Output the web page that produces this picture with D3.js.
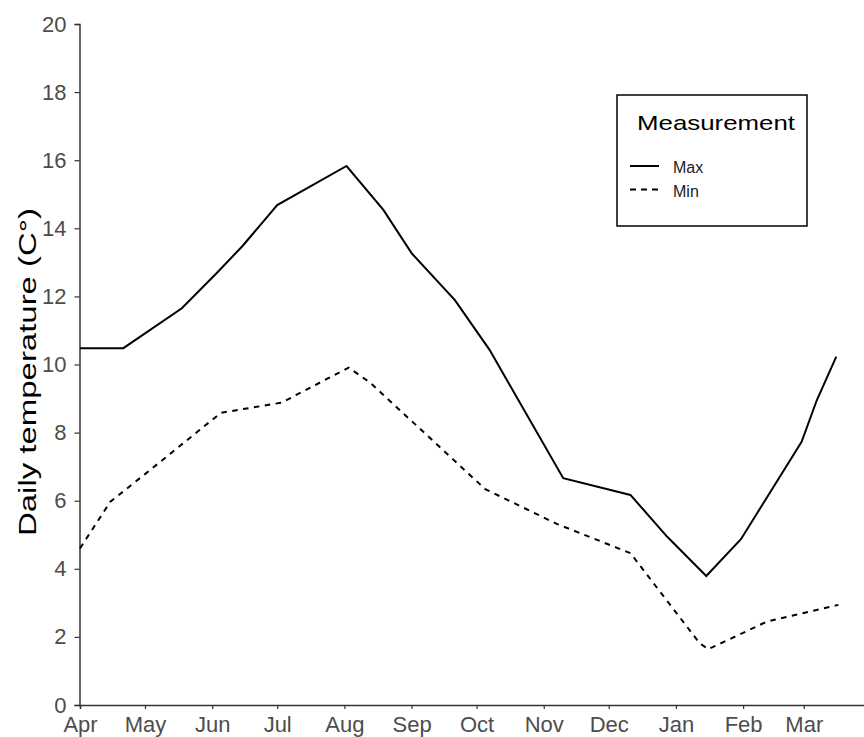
<!DOCTYPE html>
<html>
<head>
<meta charset="utf-8">
<script src="https://cdn.jsdelivr.net/npm/d3@7"></script>
<style>
  body { margin: 0; background: #fff; }
  text { font-family: "Liberation Sans", Arial, sans-serif; }
</style>
</head>
<body>
<svg id="chart" width="864" height="737"></svg>
<script>
// daily temperature
var maxDates = ["2018-04-01", "2018-04-21", "2018-05-18", "2018-06-03", "2018-06-15",
  "2018-07-01", "2018-08-02", "2018-08-19", "2018-09-01", "2018-09-21",
  "2018-10-07", "2018-11-10", "2018-12-11", "2018-12-28", "2019-01-15", "2019-01-31",
  "2019-02-28", "2019-03-07", "2019-03-16"];
var maxValues = [10.48, 10.48, 11.65, 12.68, 13.48, 14.68, 15.83, 14.54, 13.27,
  11.89, 10.43, 6.66, 6.17, 4.94, 3.79, 4.87, 7.73, 8.95, 10.23];

var minDates = ["2018-04-01", "2018-04-15", "2018-05-01", "2018-06-05", "2018-07-03",
  "2018-08-03", "2018-08-13", "2018-10-05", "2018-11-07", "2018-12-11", "2019-01-12",
  "2019-01-16", "2019-02-12", "2019-03-17"];
var minValues = [4.60, 5.97, 6.78, 8.58, 8.88, 9.91, 9.46, 6.34, 5.32, 4.46, 1.81,
  1.64, 2.45, 2.94];

var monthTicks = ["2018-04-01", "2018-05-01", "2018-06-01", "2018-07-01", "2018-08-01",
  "2018-09-01", "2018-10-01", "2018-11-01", "2018-12-01", "2019-01-01", "2019-02-01",
  "2019-03-01"];
var yTicks = [0, 2, 4, 6, 8, 10, 12, 14, 16, 18, 20];
var seriesNames = ["Max", "Min"];
var dashes = [null, "5.5,5.5"];

var parse = d3.timeParse("%Y-%m-%d");

function toPoints(dates, values) {
  return dates.map(function (d, i) { return { date: parse(d), value: values[i] }; });
}
var series = [toPoints(maxDates, maxValues), toPoints(minDates, minValues)];

var svg = d3.select("#chart");
svg.append("rect").attr("width", 864).attr("height", 737).attr("fill", "#fff");

var x = d3.scaleTime()
  .domain([parse("2018-04-01"), parse("2019-04-01")])
  .range([80, 80 + 365 * 2.167]);
var y = d3.scaleLinear().domain([0, 20]).range([705, 24]);

var axisColor = "#333";
var labelFont = "'Liberation Sans', Arial, sans-serif";

// x axis
var xAxisG = svg.append("g")
  .attr("transform", "translate(0,705)")
  .call(d3.axisBottom(x)
    .tickValues(monthTicks.map(parse))
    .tickFormat(d3.timeFormat("%b"))
    .tickSizeOuter(0)
    .tickSize(4)
    .tickPadding(7));
xAxisG.select(".domain").attr("stroke", axisColor).attr("stroke-width", 1.5);
xAxisG.selectAll(".tick line").attr("stroke", axisColor).attr("stroke-width", 1.2);
xAxisG.selectAll(".tick text")
  .attr("fill", "#4d4d4d")
  .style("font-size", "22px")
  .style("font-family", labelFont);

// y axis
var yAxisG = svg.append("g")
  .attr("transform", "translate(79.5,0)")
  .call(d3.axisLeft(y)
    .tickValues(yTicks)
    .tickSizeOuter(0)
    .tickSize(5)
    .tickPadding(8));
yAxisG.select(".domain").attr("stroke", axisColor).attr("stroke-width", 1.5);
yAxisG.selectAll(".tick line").attr("stroke", axisColor).attr("stroke-width", 1.2);
yAxisG.selectAll(".tick text")
  .attr("fill", "#4d4d4d")
  .style("font-size", "22px")
  .style("font-family", labelFont);

svg.append("text")
  .attr("transform", "translate(36,372) rotate(-90)")
  .attr("text-anchor", "middle")
  .attr("textLength", 328)
  .attr("lengthAdjust", "spacingAndGlyphs")
  .style("font-size", "23px")
  .attr("fill", "#000")
  .text("Daily temperature (C°)");

// lines
var line = d3.line()
  .x(function (d) { return x(d.date); })
  .y(function (d) { return y(d.value); });

svg.selectAll("path.series")
  .data(series)
  .enter().append("path")
  .attr("class", "series")
  .attr("d", line)
  .attr("fill", "none")
  .attr("stroke", "#000")
  .attr("stroke-width", 2)
  .attr("stroke-dasharray", function (d, i) { return dashes[i]; });

// legend
var legend = svg.append("g");
legend.append("rect")
  .attr("x", 617).attr("y", 95)
  .attr("width", 190).attr("height", 131)
  .attr("fill", "#fff")
  .attr("stroke", "#000")
  .attr("stroke-width", 1.5);
legend.append("text")
  .attr("x", 637).attr("y", 130)
  .attr("textLength", 158)
  .attr("lengthAdjust", "spacingAndGlyphs")
  .style("font-size", "21px")
  .attr("fill", "#000")
  .text("Measurement");

var items = legend.selectAll("g.item")
  .data(seriesNames)
  .enter().append("g")
  .attr("class", "item")
  .attr("transform", function (d, i) { return "translate(0," + (166 + i * 23.5) + ")"; });
items.append("line")
  .attr("x1", 630).attr("x2", 659)
  .attr("stroke", "#000")
  .attr("stroke-width", 2)
  .attr("stroke-dasharray", function (d, i) { return i ? "6,5" : null; });
items.append("text")
  .attr("x", 673).attr("y", 7)
  .style("font-size", "16px")
  .attr("fill", "#222")
  .text(function (d) { return d; });
</script>
</body>
</html>
